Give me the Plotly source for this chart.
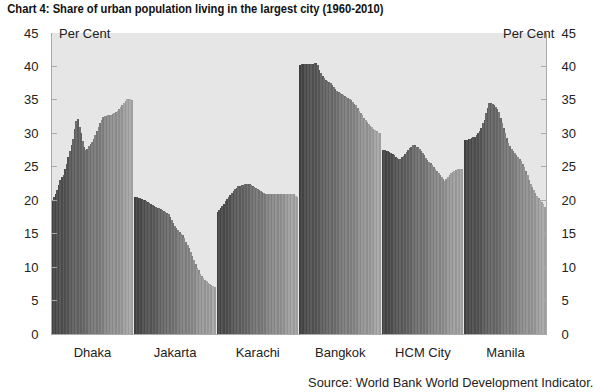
import plotly.graph_objects as go

cities = ["Dhaka", "Jakarta", "Karachi", "Bangkok", "HCM City", "Manila"]
years = list(range(1960, 2011))

dhaka = [20.0, 20.5, 21.0, 21.5, 22.3, 23.0, 23.4, 23.8, 24.6, 25.4, 26.4, 27.4, 28.3, 29.2, 30.6, 31.8, 32.2,
         31.0, 30.0, 28.8, 28.0, 27.5, 27.7, 28.1, 28.4, 28.7, 29.2, 29.8, 30.3, 30.9, 31.5, 32.0, 32.5, 32.6,
         32.6, 32.7, 32.7, 32.8, 32.9, 33.0, 33.2, 33.4, 33.6, 33.9, 34.2, 34.5, 34.8, 35.1, 35.2, 35.2, 35.0]
jakarta = [20.5, 20.5, 20.4, 20.3, 20.2, 20.1, 20.0, 19.9, 19.7, 19.6, 19.4, 19.3, 19.1, 19.0, 18.9, 18.8, 18.7,
           18.6, 18.4, 18.3, 18.1, 18.0, 17.5, 17.0, 16.6, 16.2, 15.8, 15.5, 15.3, 15.0, 14.8, 14.3, 13.8, 13.3,
           12.8, 12.2, 11.7, 11.1, 10.5, 9.9, 9.5, 9.0, 8.6, 8.4, 8.1, 7.9, 7.7, 7.5, 7.3, 7.2, 7.1]
karachi = [18.3, 18.6, 18.9, 19.2, 19.5, 19.9, 20.2, 20.5, 20.8, 21.1, 21.4, 21.7, 21.9, 22.1, 22.2, 22.3, 22.3,
           22.4, 22.4, 22.4, 22.4, 22.3, 22.2, 22.0, 21.9, 21.7, 21.5, 21.4, 21.2, 21.1, 21.0, 21.0, 20.9, 20.9,
           20.9, 20.9, 20.9, 20.9, 20.9, 20.9, 20.9, 21.0, 21.0, 21.0, 21.0, 21.0, 21.0, 21.0, 20.9, 20.7, 20.5]
bangkok = [40.2, 40.3, 40.3, 40.4, 40.4, 40.4, 40.4, 40.4, 40.4, 40.5, 40.5, 40.2, 39.5, 39.0, 38.6, 38.3, 38.0,
           37.8, 37.7, 37.5, 37.2, 36.9, 36.7, 36.4, 36.2, 36.0, 35.9, 35.7, 35.6, 35.5, 35.3, 35.2, 35.0, 34.7,
           34.4, 34.2, 33.8, 33.4, 33.0, 32.7, 32.3, 32.0, 31.7, 31.4, 31.1, 30.9, 30.7, 30.5, 30.3, 30.1, 30.0]
hcm = [27.5, 27.5, 27.4, 27.3, 27.2, 27.0, 26.9, 26.7, 26.5, 26.3, 26.1, 26.2, 26.4, 26.6, 26.9, 27.2, 27.5,
       27.8, 28.0, 28.3, 28.2, 28.0, 27.9, 27.6, 27.3, 27.0, 26.7, 26.3, 26.0, 25.7, 25.5, 25.2, 24.9, 24.6,
       24.4, 24.1, 23.8, 23.5, 23.2, 22.9, 23.1, 23.4, 23.7, 24.0, 24.2, 24.4, 24.5, 24.6, 24.7, 24.7, 24.7]
manila = [29.0, 29.0, 29.1, 29.2, 29.3, 29.4, 29.5, 29.7, 30.0, 30.3, 30.8, 31.5, 32.0, 33.0, 33.8, 34.5, 34.5,
          34.4, 34.2, 34.0, 33.7, 33.2, 32.3, 31.6, 30.8, 30.0, 29.3, 28.6, 28.1, 27.7, 27.4, 27.1, 26.8, 26.4,
          26.1, 25.8, 25.4, 25.0, 24.3, 23.7, 23.0, 22.5, 22.0, 21.5, 21.1, 20.7, 20.4, 20.1, 19.8, 19.5, 19.0]

series = [dhaka, jakarta, karachi, bangkok, hcm, manila]
y_ticks = [0, 5, 10, 15, 20, 25, 30, 35, 40, 45]

n = len(years)
slot = n + 1  # one empty slot between city groups

xs, ys, cols, hover = [], [], [], []
for g, (city, vals) in enumerate(zip(cities, series)):
    for i, v in enumerate(vals):
        xs.append(g * slot + i)
        ys.append(v)
        lv = int(0x46 + (0xa4 - 0x46) * i / (n - 1))
        lv += 10 if i % 2 else -6
        lv = max(0, min(255, lv))
        cols.append(f"rgb({lv},{lv},{lv})")
        hover.append(f"{city} {years[i]}: {v}")

fig = go.Figure()
fig.add_trace(go.Bar(x=xs, y=ys, width=1.0, marker=dict(color=cols, line=dict(width=0)),
                     hovertext=hover, hoverinfo="text", showlegend=False))
fig.add_trace(go.Scatter(x=[xs[0]], y=[0], yaxis="y2", mode="markers",
                         marker=dict(opacity=0), hoverinfo="skip", showlegend=False))

centers = [g * slot + (n - 1) / 2 for g in range(len(cities))]
axis_font = dict(family="Liberation Sans, Arial, sans-serif", size=13, color="#222")

fig.update_layout(
    width=600, height=392,
    margin=dict(l=52, r=54, t=33, b=58),
    paper_bgcolor="white",
    plot_bgcolor="#e6e6e6",
    bargap=0,
    xaxis=dict(range=[-0.5, len(cities) * slot - 1.5], tickvals=centers, ticktext=cities,
               ticks="", showline=True, linecolor="#aaaaaa", linewidth=1, showgrid=False,
               zeroline=False, tickfont=axis_font, ticklabelstandoff=6, fixedrange=True),
    yaxis=dict(range=[0, 45], tickvals=y_ticks, ticks="inside", ticklen=5, tickcolor="#aaaaaa",
               showline=True, linecolor="#aaaaaa", linewidth=1, showgrid=False, zeroline=False,
               tickfont=axis_font, ticklabelstandoff=10),
    yaxis2=dict(range=[0, 45], tickvals=y_ticks, ticks="inside", ticklen=5, tickcolor="#aaaaaa",
                showline=True, linecolor="#aaaaaa", linewidth=1, showgrid=False, zeroline=False,
                overlaying="y", side="right", tickfont=axis_font, ticklabelstandoff=12),
    annotations=[
        dict(text="<b>Chart 4: Share of urban population living in the largest city (1960-2010)</b>",
             name="title", xref="paper", yref="paper", x=-47 / 494, y=1 + 24 / 301,
             xanchor="left", yanchor="middle", showarrow=False,
             font=dict(family="Liberation Sans, Arial, sans-serif", size=13.5, color="#111")),
        dict(text="Per Cent", xref="paper", yref="paper", x=5 / 494, y=1, xanchor="left", yanchor="middle",
             showarrow=False, font=axis_font),
        dict(text="Per Cent", xref="paper", yref="paper", x=1 + 11 / 494, y=1, xanchor="right",
             yanchor="middle", showarrow=False, font=axis_font),
        dict(text="Source: World Bank World Development Indicator.", name="source", xref="paper",
             yref="paper", x=1 + 49 / 494, y=-48 / 301, xanchor="right", yanchor="middle", showarrow=False,
             font=dict(family="Liberation Sans, Arial, sans-serif", size=13.5, color="#222")),
    ],
)

post = """
document.body.style.margin = '0';
document.body.style.overflow = 'hidden';
var texts = document.querySelectorAll('.annotation-text');
function squeeze(el, s, origin) {
  el.style.transformBox = 'fill-box';
  el.style.transformOrigin = origin;
  el.style.transform = 'scaleX(' + s + ')';
}
texts.forEach(function (el) {
  var t = el.textContent || '';
  if (t.indexOf('Chart 4') === 0) { squeeze(el, 0.83, '0% 50%'); }
  if (t.indexOf('Source') === 0) { squeeze(el, 0.95, '100% 50%'); }
});
"""

fig.write_html("out.html", post_script=post, config={"displayModeBar": False})
